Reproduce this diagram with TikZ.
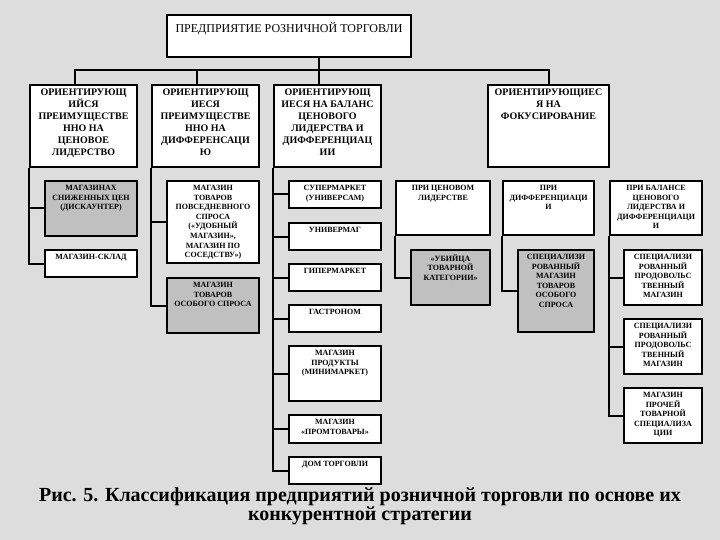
\documentclass[tikz,border=0pt]{standalone}
\usepackage{fontspec}
\setmainfont{Liberation Serif}
\usetikzlibrary{positioning}
\definecolor{backgrey}{RGB}{221,221,221}
\definecolor{boxgrey}{RGB}{192,192,192}
\tikzset{
  {box/.style} ={draw,line width=2pt,fill=white,anchor=north west,inner sep=0},
  {grey box/.style} ={box,fill=boxgrey},
  {link/.style} ={draw,line width=2pt},
  {top text/.style} ={anchor=north,align=center,inner sep=0,
                  font=\fontsize{12}{14}\selectfont},
  {head text/.style} ={anchor=north,align=center,inner sep=0,
                  font=\bfseries\fontsize{10}{12}\selectfont},
  {item text/.style} ={anchor=north,align=center,inner sep=0,
                  font=\bfseries\fontsize{8}{9.6}\selectfont},
  {caption text/.style} ={anchor=north,align=center,inner sep=0,
                  font=\bfseries\fontsize{20}{17}\selectfont},
}
\begin{document}
\begin{tikzpicture}[x=1pt,y=-1pt]
\fill[backgrey] (0,0) rectangle (720,540);
\useasboundingbox (0,0) rectangle (720,540);

\node[box,minimum width=244pt,minimum height=42pt] (top) at (166,14) {};
\node[top text,below=8pt of top.north] (topt) {ПРЕДПРИЯТИЕ РОЗНИЧНОЙ ТОРГОВЛИ};

% strategies
\node[box,minimum width=107pt,minimum height=82pt] (o1) at (29,84) {};
\node[box,minimum width=107pt,minimum height=82pt] (o2) at (151,84) {};
\node[box,minimum width=107pt,minimum height=82pt] (o3) at (273,84) {};
\node[box,minimum width=121pt,minimum height=82pt] (o4) at (487,84) {};
\node[head text,below=4.5pt of o1.north] (o1t)
  {ОРИЕНТИРУЮЩ\\ИЙСЯ\\ПРЕИМУЩЕСТВЕ\\ННО НА\\ЦЕНОВОЕ\\ЛИДЕРСТВО};
\node[head text,below=4.5pt of o2.north] (o2t)
  {ОРИЕНТИРУЮЩ\\ИЕСЯ\\ПРЕИМУЩЕСТВЕ\\ННО НА\\ДИФФЕРЕНСАЦИ\\Ю};
\node[head text,below=4.5pt of o3.north] (o3t)
  {ОРИЕНТИРУЮЩ\\ИЕСЯ НА БАЛАНС\\ЦЕНОВОГО\\ЛИДЕРСТВА И\\ДИФФЕРЕНЦИАЦ\\ИИ};
\node[head text,below=4.5pt of o4.north] (o4t)
  {ОРИЕНТИРУЮЩИЕС\\Я НА\\ФОКУСИРОВАНИЕ};

% shops
\node[grey box,minimum width=92pt,minimum height=55pt] (d1) at (44,180) {};
\node[box,minimum width=92pt,minimum height=27pt] (w1) at (44,249) {};
\node[box,minimum width=92pt,minimum height=82pt] (u2) at (166,180) {};
\node[grey box,minimum width=92pt,minimum height=55pt] (s2) at (166,277) {};
\node[box,minimum width=92pt,minimum height=27pt] (c1) at (288,180) {};
\node[box,minimum width=92pt,minimum height=27pt] (c2) at (288,222) {};
\node[box,minimum width=92pt,minimum height=27pt] (c3) at (288,263) {};
\node[box,minimum width=92pt,minimum height=27pt] (c4) at (288,304) {};
\node[box,minimum width=92pt,minimum height=55pt] (c5) at (288,345) {};
\node[box,minimum width=92pt,minimum height=28pt] (c6) at (288,414) {};
\node[box,minimum width=92pt,minimum height=27pt] (c7) at (288,456) {};
\node[box,minimum width=94pt,minimum height=54pt] (p1) at (395,180) {};
\node[grey box,minimum width=79pt,minimum height=55pt] (k1) at (410,249) {};
\node[box,minimum width=91pt,minimum height=54pt] (p2) at (502,180) {};
\node[grey box,minimum width=76pt,minimum height=82pt] (k2) at (517,249) {};
\node[box,minimum width=92pt,minimum height=54pt] (p3) at (609,180) {};
\node[box,minimum width=78pt,minimum height=55pt] (f1) at (623,249) {};
\node[box,minimum width=78pt,minimum height=55pt] (f2) at (623,318) {};
\node[box,minimum width=78pt,minimum height=55pt] (f3) at (623,387) {};

\node[item text,below=5pt of d1.north] (d1t) {МАГАЗИНАХ\\СНИЖЕННЫХ ЦЕН\\(ДИСКАУНТЕР)};
\node[item text,below=5pt of w1.north] (w1t) {МАГАЗИН-СКЛАД};
\node[item text,below=5pt of u2.north] (u2t)
  {МАГАЗИН\\ТОВАРОВ\\ПОВСЕДНЕВНОГО\\СПРОСА\\(«УДОБНЫЙ\\МАГАЗИН»,\\МАГАЗИН ПО\\СОСЕДСТВУ»)};
\node[item text,below=5pt of s2.north] (s2t) {МАГАЗИН\\ТОВАРОВ\\ОСОБОГО СПРОСА};
\node[item text,below=5pt of c1.north] (c1t) {СУПЕРМАРКЕТ\\(УНИВЕРСАМ)};
\node[item text,below=5pt of c2.north] (c2t) {УНИВЕРМАГ};
\node[item text,below=5pt of c3.north] (c3t) {ГИПЕРМАРКЕТ};
\node[item text,below=5pt of c4.north] (c4t) {ГАСТРОНОМ};
\node[item text,below=5pt of c5.north] (c5t) {МАГАЗИН\\ПРОДУКТЫ\\(МИНИМАРКЕТ)};
\node[item text,below=5pt of c6.north] (c6t) {МАГАЗИН\\«ПРОМТОВАРЫ»};
\node[item text,below=5pt of c7.north] (c7t) {ДОМ ТОРГОВЛИ};
\node[item text,below=5pt of p1.north] (p1t) {ПРИ ЦЕНОВОМ\\ЛИДЕРСТВЕ};
\node[item text,below=5pt of k1.north] (k1t) {«УБИЙЦА\\ТОВАРНОЙ\\КАТЕГОРИИ»};
\node[item text,below=5pt of p2.north] (p2t) {ПРИ\\ДИФФЕРЕНЦИАЦИ\\И};
\node[item text,below=5pt of k2.north] (k2t)
  {СПЕЦИАЛИЗИ\\РОВАННЫЙ\\МАГАЗИН\\ТОВАРОВ\\ОСОБОГО\\СПРОСА};
\node[item text,below=5pt of p3.north] (p3t)
  {ПРИ БАЛАНСЕ\\ЦЕНОВОГО\\ЛИДЕРСТВА И\\ДИФФЕРЕНЦИАЦИ\\И};
\node[item text,below=5pt of f1.north] (f1t) {СПЕЦИАЛИЗИ\\РОВАННЫЙ\\ПРОДОВОЛЬС\\ТВЕННЫЙ\\МАГАЗИН};
\node[item text,below=5pt of f2.north] (f2t) {СПЕЦИАЛИЗИ\\РОВАННЫЙ\\ПРОДОВОЛЬС\\ТВЕННЫЙ\\МАГАЗИН};
\node[item text,below=5pt of f3.north] (f3t) {МАГАЗИН\\ПРОЧЕЙ\\ТОВАРНОЙ\\СПЕЦИАЛИЗА\\ЦИИ};

% links
\draw[link] (319,0 |- top.south) -- (319,0 |- o3.north);
\draw[link] (75,0 |- o1.north) |- (o4.north |- 0,70) -- (o4.north);
\draw[link] (197,0 |- o2.north) -- (197,70);
\draw[link] (o1.south west) |- (d1.west) (o1.south west) |- (w1.west);
\draw[link] (o2.south west) |- (u2.west) (o2.south west) |- (s2.west);
\foreach \n in {c1,c2,c3,c4,c5,c6,c7}
  \draw[link] (o3.south west) |- (\n.west);
\draw[link] (p1.south west) |- (k1.west);
\draw[link] (p2.south west) |- (k2.west);
\foreach \n in {f1,f2,f3}
  \draw[link] (p3.south west) |- (\n.west);

\node[caption text] (cap) at (360,487)
  {Рис. 5. Классификация предприятий розничной торговли по основе их\\конкурентной стратегии};
\end{tikzpicture}
\end{document}
